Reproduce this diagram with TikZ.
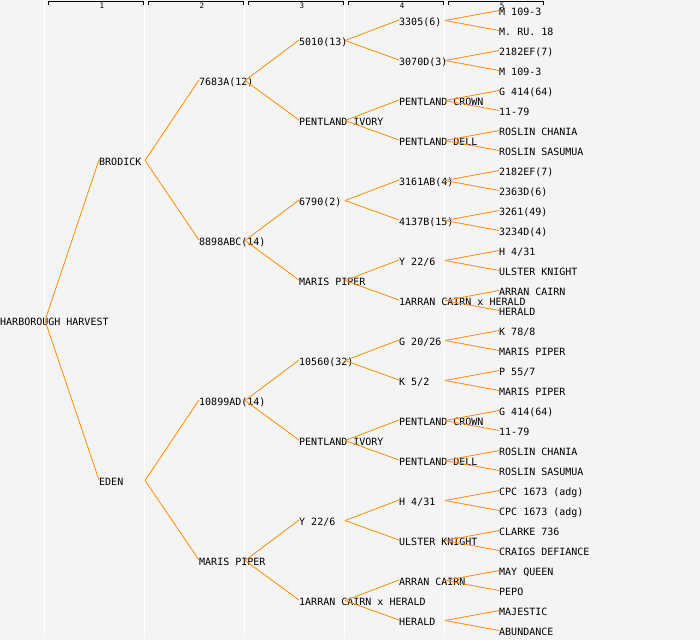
\documentclass[tikz,border=0pt]{standalone}
\usepackage{fontspec}
\setmonofont{DejaVu Sans Mono}
\definecolor{bgcol}{HTML}{F4F4F4}
\definecolor{treeorange}{HTML}{FF8C00}
\begin{document}
\begin{tikzpicture}[x=1pt,y=-1pt,
  lbl/.style={anchor=west,inner sep=0pt,font=\ttfamily\fontsize{10}{10}\selectfont,text height=7.3pt,text depth=0pt},
  edge/.style={draw=treeorange,line width=0.8pt},
  colline/.style={draw=white,line width=1.3pt},
  bracket/.style={draw=black,line width=0.8pt},
  hdr/.style={inner sep=0pt,font=\ttfamily\fontsize{7.5}{7.5}\selectfont}]
\useasboundingbox (0,0) rectangle (700,640);
\fill[bgcol] (0,0) rectangle (700,640);
\foreach \k in {0,...,4} \draw[colline] ({44.5+100*\k},0) -- ({44.5+100*\k},638);
\foreach \k in {1,...,5} {
  \draw[bracket] ({100*\k-52},4.5) -- ({100*\k-52},1.5) -- ({100*\k+43},1.5) -- ({100*\k+43},4.5);
  \node[hdr] (h\k) at ({100*\k+2},6) {\k};
}
% nodes
\node[lbl] (r) at (0,322) {HARBOROUGH HARVEST};
\foreach \t [count=\i] in {BRODICK,EDEN}
  \node[lbl] (a\i) at (99,{162+320*(\i-1)}) {\t};
\foreach \t [count=\i] in {7683A(12),8898ABC(14),10899AD(14),MARIS PIPER}
  \node[lbl] (b\i) at (199,{82+160*(\i-1)}) {\t};
\foreach \t [count=\i] in {5010(13),PENTLAND IVORY,6790(2),MARIS PIPER,10560(32),PENTLAND IVORY,Y 22/6,1ARRAN CAIRN x HERALD}
  \node[lbl] (c\i) at (299,{42+80*(\i-1)}) {\t};
\foreach \t [count=\i] in {3305(6),3070D(3),PENTLAND CROWN,PENTLAND DELL,3161AB(4),4137B(15),Y 22/6,1ARRAN CAIRN x HERALD,G 20/26,K 5/2,PENTLAND CROWN,PENTLAND DELL,H 4/31,ULSTER KNIGHT,ARRAN CAIRN,HERALD}
  \node[lbl] (d\i) at (399,{22+40*(\i-1)}) {\t};
\foreach \t [count=\i] in {M 109-3,M. RU. 18,2182EF(7),M 109-3,G 414(64),11-79,ROSLIN CHANIA,ROSLIN SASUMUA,2182EF(7),2363D(6),3261(49),3234D(4),H 4/31,ULSTER KNIGHT,ARRAN CAIRN,HERALD,K 78/8,MARIS PIPER,P 55/7,MARIS PIPER,G 414(64),11-79,ROSLIN CHANIA,ROSLIN SASUMUA,CPC 1673 (adg),CPC 1673 (adg),CLARKE 736,CRAIGS DEFIANCE,MAY QUEEN,PEPO,MAJESTIC,ABUNDANCE}
  \node[lbl] (e\i) at (499,{12+20*(\i-1)}) {\t};
% junctions
\coordinate (jr) at (45,320.5);
\foreach \i in {1,2} \coordinate (ja\i) at (145,{160.5+320*(\i-1)});
\foreach \i in {1,...,4} \coordinate (jb\i) at (245,{80.5+160*(\i-1)});
\foreach \i in {1,...,8} \coordinate (jc\i) at (345,{40.5+80*(\i-1)});
\foreach \i in {1,...,16} \coordinate (jd\i) at (445,{20.5+40*(\i-1)});
% edges
\foreach \i in {1,2} \draw[edge] (jr) -- ([yshift=2pt]a\i.west);
\foreach \i in {1,2} \foreach \c in {1,2} {
  \pgfmathtruncatemacro\j{2*\i-2+\c}
  \draw[edge] (ja\i) -- ([yshift=2pt]b\j.west);
}
\foreach \i in {1,...,4} \foreach \c in {1,2} {
  \pgfmathtruncatemacro\j{2*\i-2+\c}
  \draw[edge] (jb\i) -- ([yshift=2pt]c\j.west);
}
\foreach \i in {1,...,8} \foreach \c in {1,2} {
  \pgfmathtruncatemacro\j{2*\i-2+\c}
  \draw[edge] (jc\i) -- ([yshift=2pt]d\j.west);
}
\foreach \i in {1,...,16} \foreach \c in {1,2} {
  \pgfmathtruncatemacro\j{2*\i-2+\c}
  \draw[edge] (jd\i) -- ([yshift=1.5pt]e\j.west);
}
\end{tikzpicture}
\end{document}
